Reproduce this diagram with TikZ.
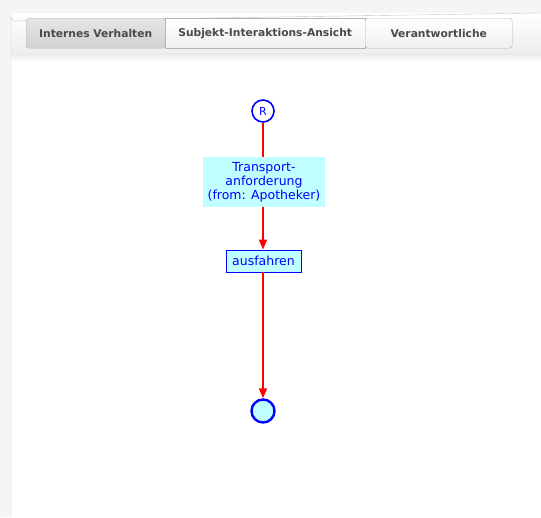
\documentclass[tikz,border=0pt]{standalone}
\usepackage{fontspec}
\setmainfont{DejaVu Sans}
\usetikzlibrary{arrows.meta}
\definecolor{bg}{HTML}{F5F5F5}
\definecolor{panelborder}{HTML}{C8C8C8}
\definecolor{tabtxt}{HTML}{4A4A4A}
\definecolor{cyanfill}{HTML}{C0FFFF}
\definecolor{flowblue}{HTML}{0000FF}
\definecolor{flowred}{HTML}{FF0000}
\tikzset{
  tab/.style={draw=panelborder!90!black, minimum height=30pt, inner sep=0pt,
    font=\fontsize{10.7}{13}\selectfont\bfseries\sffamily, text=tabtxt},
  state/.style={fill=cyanfill, text=flowblue, font=\fontsize{12.5}{14}\selectfont, inner sep=0pt, align=center},
  flow/.style={draw=flowred, line width=1.6pt},
  flowarrow/.style={flow, -{Triangle[length=10pt,width=8pt]}},
}
\setsansfont{DejaVu Sans}
\begin{document}
\begin{tikzpicture}[x=1pt,y=-1pt]
\useasboundingbox (0,0) rectangle (541,517);
\fill[bg] (0,0) rectangle (541,517);
% panel
\fill[white] (11,53) rectangle (541,517);
\shade[top color=white, bottom color=white!93!black] (11,13) rectangle (541,53);
\draw[panelborder] (11,517) -- (11,17) arc[start angle=180,end angle=90,radius=4] -- (541,13);
\draw[panelborder!80] (11,53) -- (541,53);
\shade[top color=black!8, bottom color=white] (11.5,53.5) rectangle (541,62);
% tabs
\node[tab, minimum width=139pt, anchor=north west, rounded corners=3pt,
  top color=black!10, bottom color=black!18] (t1) at (26,18) {Internes Verhalten};
\node[tab, minimum width=200pt, anchor=north west, top color=white, bottom color=black!6] (t2) at (165,18) {Subjekt-Interaktions-Ansicht};
\node[tab, minimum width=147pt, anchor=north west, rounded corners=3pt,
  top color=white, bottom color=black!6] (t3) at (365,18) {Verantwortliche};
% flow
\node[circle, draw=flowblue, line width=1.6pt, fill=white, minimum size=22pt, inner sep=0pt,
  text=flowblue, font=\fontsize{11}{12}\selectfont] (r) at (263,111) {R};
\node[state, minimum width=122pt, minimum height=50pt] (tr) at (264,182)
  {Transport-\\anforderung\\(from: Apotheker)};
\node[state, draw=flowblue, line width=0.8pt, minimum width=75pt, minimum height=22pt] (au) at (263.5,261) {ausfahren};
\node[circle, draw=flowblue, line width=2.4pt, fill=cyanfill, minimum size=23pt, inner sep=0pt] (e) at (263,411) {};
\draw[flow] (r) -- (r |- tr.north);
\draw[flowarrow] (r |- tr.south) -- (r |- au.north);
\draw[flowarrow] (r |- au.south) -- (e.north);
\end{tikzpicture}
\end{document}
